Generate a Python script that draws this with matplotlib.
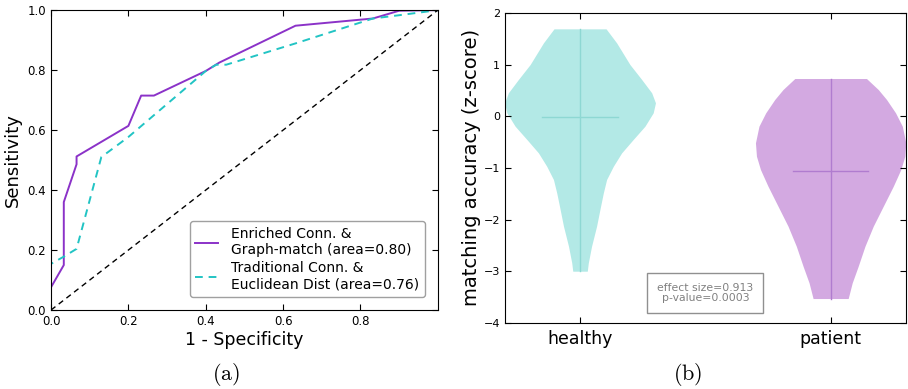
import matplotlib
matplotlib.use("Agg")
import matplotlib.pyplot as plt

plt.rcParams['font.family'] = ['DejaVu Sans']
plt.rcParams['mathtext.fontset'] = 'cm'

# ROC data
fpr_enriched = [0.0, 0.0, 0.033, 0.033, 0.066, 0.066, 0.2, 0.233, 0.266, 0.4, 0.435, 0.632, 0.832, 0.9, 1.0]
tpr_enriched = [0.0, 0.076, 0.15, 0.36, 0.486, 0.512, 0.614, 0.715, 0.715, 0.797, 0.825, 0.948, 0.972, 0.998, 1.0]
fpr_trad = [0.0, 0.0, 0.033, 0.066, 0.13, 0.2, 0.4, 0.427, 0.453, 0.632, 0.832, 0.9, 1.0]
tpr_trad = [0.0, 0.154, 0.178, 0.204, 0.51, 0.577, 0.797, 0.818, 0.818, 0.889, 0.972, 0.983, 1.0]
label_enriched = "Enriched Conn. &\nGraph-match (area=0.80)"
label_trad = "Traditional Conn. &\nEuclidean Dist (area=0.76)"

# Violin profiles (y level, half width)
groups = ["healthy", "patient"]
healthy_y = [1.690, 1.419, 1.0, 0.710, 0.452, 0.258, 0.065, -0.194, -0.452, -0.710,
             -0.968, -1.226, -1.484, -1.742, -2.129, -2.516, -2.839, -3.0]
healthy_w = [0.104, 0.146, 0.199, 0.246, 0.286, 0.301, 0.292, 0.259, 0.212, 0.166,
             0.133, 0.106, 0.093, 0.082, 0.066, 0.046, 0.033, 0.029]
healthy_mean = -0.01
patient_y = [0.729, 0.516, 0.323, 0.065, -0.194, -0.516, -0.774, -1.032, -1.355,
             -1.742, -2.129, -2.516, -2.903, -3.226, -3.529]
patient_w = [0.143, 0.19, 0.223, 0.259, 0.286, 0.300, 0.296, 0.280, 0.250,
             0.210, 0.170, 0.137, 0.110, 0.086, 0.070]
patient_mean = -1.06
stats_text = "effect size=0.913\np-value=0.0003"

fig = plt.figure(figsize=(9.08, 3.89), dpi=100)

# ---- Left: ROC
ax1 = fig.add_axes([0.0562, 0.203, 0.426, 0.771])
ax1.plot(fpr_enriched, tpr_enriched, color='#8b32c8', lw=1.4, label=label_enriched)
ax1.plot(fpr_trad, tpr_trad, color='#22c4c4', lw=1.4, ls=(0, (4, 3)), label=label_trad)
ax1.plot([0, 1], [0, 1], color='black', lw=1.0, ls=(0, (4, 3)))
ax1.set_xlim(0, 1)
ax1.set_ylim(0, 1)
ax1.set_xticks([0.0, 0.2, 0.4, 0.6, 0.8])
ax1.set_yticks([0.0, 0.2, 0.4, 0.6, 0.8, 1.0])
ax1.tick_params(direction='in', top=True, right=True, labelsize=8.5, length=4)
ax1.set_ylabel("Sensitivity", fontsize=13)
ax1.set_xlabel("1 - Specificity", fontsize=12.5, labelpad=2)
leg = ax1.legend(loc='lower right', fontsize=10, handlelength=1.6, handletextpad=1.0,
                 labelspacing=0.3, borderpad=0.4, fancybox=True,
                 bbox_to_anchor=(0.985, 0.02))
leg.get_frame().set_edgecolor('#888888')
fig.text(0.249, 0.036, r'$\mathrm{(a)}$', fontsize=16, ha='center', va='center')

# ---- Right: violins
ax2 = fig.add_axes([0.556, 0.170, 0.4416, 0.797])
profiles = [(1, healthy_y, healthy_w, healthy_mean, '#b3e9e6', '#8ed8d3'),
            (2, patient_y, patient_w, patient_mean, '#d3a9e1', '#b07ccf')]
for pos, ys, ws, mean, fc, lc in profiles:
    left = [pos - w for w in ws]
    right = [pos + w for w in ws]
    ax2.fill_betweenx(ys, left, right, color=fc, lw=0, zorder=1)
    ax2.plot([pos, pos], [min(ys), max(ys)], color=lc, lw=1.0, zorder=2)
    ax2.plot([pos - 0.15, pos + 0.15], [mean, mean], color=lc, lw=1.0, zorder=2)
ax2.set_xlim(0.7, 2.3)
ax2.set_ylim(-4, 2)
ax2.set_xticks([1, 2])
ax2.set_xticklabels(groups, fontsize=12.5)
ax2.set_yticks([-4, -3, -2, -1, 0, 1, 2])
ax2.tick_params(axis='y', labelsize=8)
ax2.tick_params(direction='in', top=True, right=True, length=4)
ax2.tick_params(axis='x', pad=5)
ax2.set_ylabel("matching accuracy (z-score)", fontsize=14, labelpad=2)
ax2.text(1.5, -3.42, stats_text, ha='center', va='center', fontsize=7.8, color='#808080',
         linespacing=1.0,
         bbox=dict(boxstyle='square,pad=0.9', fc='white', ec='#909090', lw=1.0))
fig.text(0.757, 0.036, r'$\mathrm{(b)}$', fontsize=16, ha='center', va='center')

fig.savefig("out.png", dpi=100)
